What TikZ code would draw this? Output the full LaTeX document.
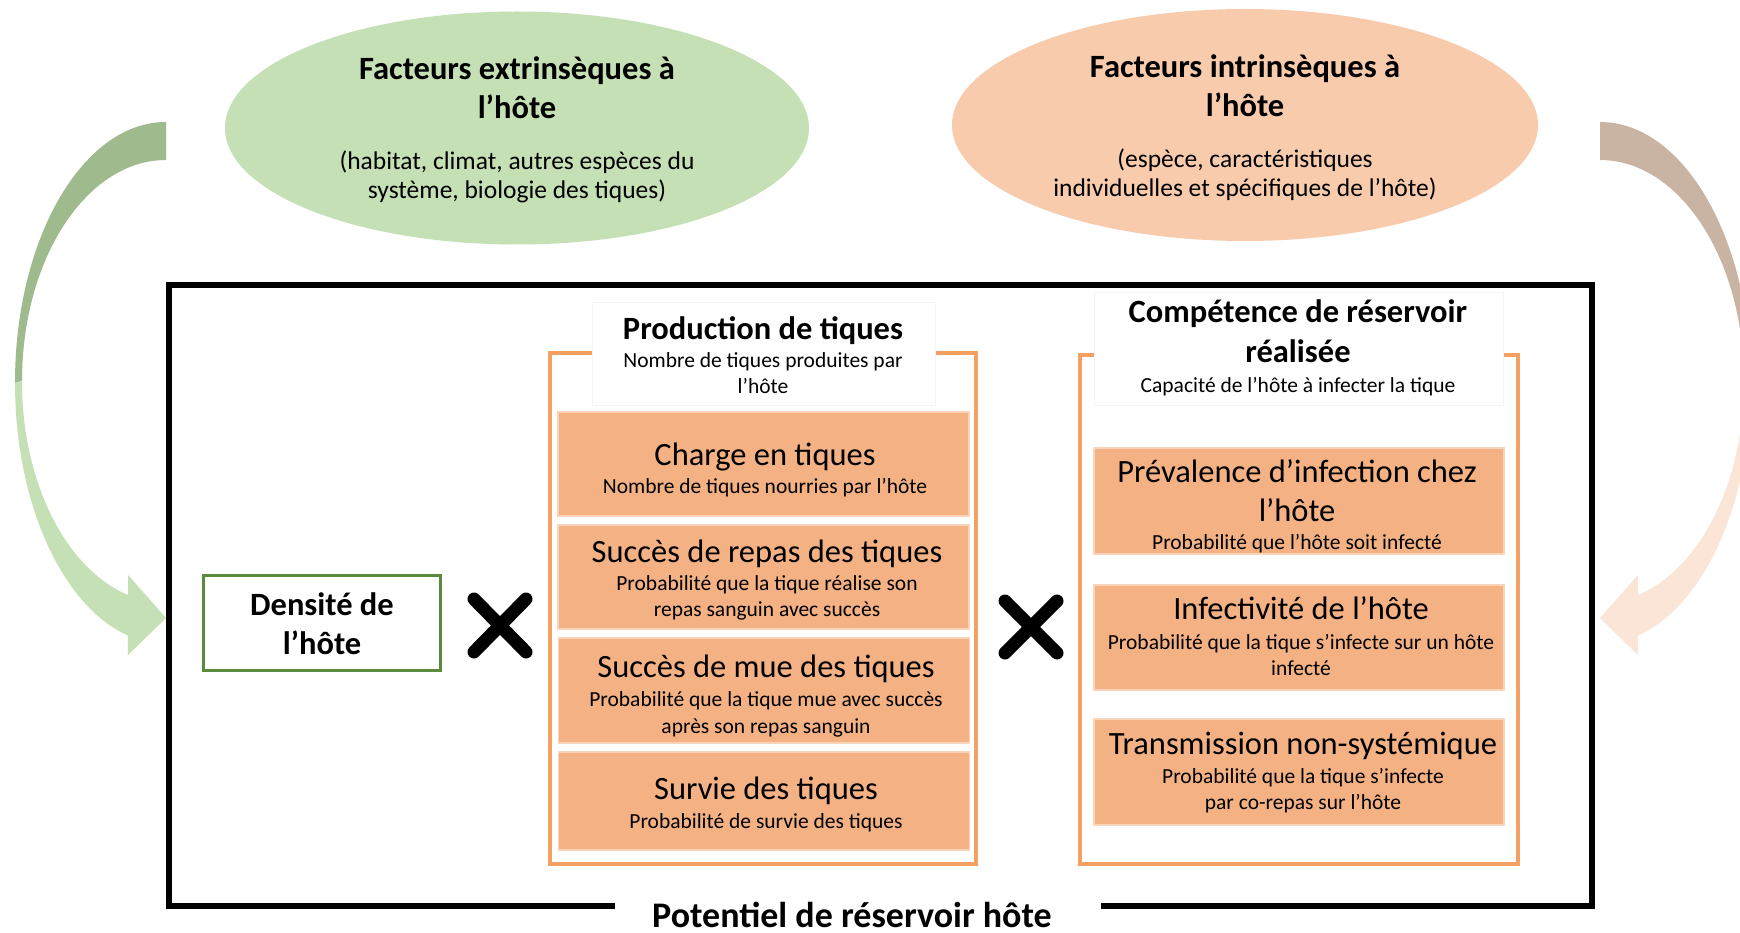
\documentclass[tikz,border=0pt]{standalone}
\usepackage{fontspec}
\setmainfont{Carlito}
\usetikzlibrary{shapes.geometric}
\definecolor{ellG}{HTML}{C5E0B4}
\definecolor{ellO}{HTML}{F8CBAD}
\definecolor{boxO}{HTML}{F4B183}
\definecolor{brO}{HTML}{F4A062}
\definecolor{grB}{HTML}{5A8A3C}
\definecolor{arrGd}{HTML}{9FBA8C}
\definecolor{arrGl}{HTML}{C5E0B4}
\definecolor{arrOd}{HTML}{C9B3A3}
\definecolor{arrOl}{HTML}{FBE5D6}
\begin{document}
\begin{tikzpicture}[x=1pt,y=-1pt,
  tb/.style={font=\bfseries\fontsize{32.5}{39}\selectfont, anchor=base, inner sep=0pt},
  tr/.style={font=\fontsize{32.5}{39}\selectfont, anchor=base, inner sep=0pt},
  ts/.style={font=\fontsize{21.5}{26}\selectfont, anchor=base, inner sep=0pt},
  te/.style={font=\fontsize{25.5}{31}\selectfont, anchor=base, inner sep=0pt},
  obox/.style={rectangle, fill=boxO, draw=boxO!55!white, line width=1.5pt, inner sep=0pt},
  wbox/.style={rectangle, fill=white, draw=black!4, line width=0.8pt, inner sep=0pt},
  bracket/.style={draw=brO, line width=3.5pt},
  ell/.style={ellipse, inner sep=0pt},
  xmark/.style={line width=13pt, line cap=round}
]
\path[use as bounding box] (0,0) rectangle (1740,933);
\fill[white] (0,0) rectangle (1740,933);

% ellipses
\node[ell, fill=ellG, minimum width=584pt, minimum height=233pt] (extr) at (517,128) {};
\node[ell, fill=ellO, minimum width=586pt, minimum height=232pt] (intr) at (1245,125) {};

% curved arrows
\begin{scope}
\clip (0,0) rectangle (1740,933);
\fill[arrGd] (166,122) arc[start angle=270, end angle=180, x radius=151, y radius=261]
  -- (22,381) arc[start angle=180, end angle=270, x radius=144, y radius=221] -- cycle;
\fill[arrGl] (15,383) arc[start angle=180, end angle=104.6, x radius=151, y radius=261]
  -- (128,655) -- (166,618) -- (128,575) -- (128,595)
  arc[start angle=105.3, end angle=180, x radius=144, y radius=221] -- cycle;
\fill[arrOd] (1600,122) arc[start angle=270, end angle=360, x radius=151, y radius=261]
  -- (1744,381) arc[start angle=360, end angle=270, x radius=144, y radius=221] -- cycle;
\fill[arrOl] (1751,383) arc[start angle=0, end angle=75.4, x radius=151, y radius=261]
  -- (1638,655) -- (1600,618) -- (1638,575) -- (1638,595)
  arc[start angle=74.7, end angle=0, x radius=144, y radius=221] -- cycle;
\end{scope}

% main frame
\draw[line width=6pt] (169,285) rectangle (1592,906);
\node[rectangle, fill=white, inner sep=0pt, minimum width=486pt, minimum height=46pt] (potbg) at (857.5,910) {};

% brackets
\draw[bracket] (550,353) rectangle (976,864);
\draw[bracket] (1080,355) rectangle (1518,864);
\node[wbox, minimum width=343pt, minimum height=103pt] (prodbg) at (763.5,353.5) {};
\node[wbox, minimum width=409pt, minimum height=113pt] (compbg) at (1298.5,348.5) {};

% orange boxes (left)
\node[obox, minimum width=411pt, minimum height=104pt] (charge) at (763.5,464) {};
\node[obox, minimum width=411pt, minimum height=104pt] (repas) at (763.5,577) {};
\node[obox, minimum width=411pt, minimum height=105pt] (mue) at (764,690.5) {};
\node[obox, minimum width=411pt, minimum height=98pt] (survie) at (764,801) {};
% orange boxes (right)
\node[obox, minimum width=410pt, minimum height=106pt] (preval) at (1299,501) {};
\node[obox, minimum width=410pt, minimum height=105pt] (infect) at (1299,637.5) {};
\node[obox, minimum width=410pt, minimum height=106pt] (transm) at (1299,772) {};

% density box
\node[rectangle, draw=grB, line width=3pt, fill=white, minimum width=237pt, minimum height=95pt] (dens) at (321.5,622.5) {};

% multiply signs
\draw[xmark] (474,599) -- (526,652);
\draw[xmark] (526,599) -- (474,652);
\draw[xmark] (1005,601) -- (1057,653);
\draw[xmark] (1057,601) -- (1005,653);

% texts: ellipses
\node[tb] (e1a) at (517,80) {Facteurs extrinsèques à};
\node[tb] (e1b) at (517,119) {l’hôte};
\node[te] (e1c) at (517,170) {(habitat, climat, autres espèces du};
\node[te] (e1d) at (517,199) {système, biologie des tiques)};
\node[tb] (e2a) at (1245,78) {Facteurs intrinsèques à};
\node[tb] (e2b) at (1245,117) {l’hôte};
\node[te] (e2c) at (1245,168) {(espèce, caractéristiques};
\node[te] (e2d) at (1245,197) {individuelles et spécifiques de l’hôte)};

% density
\node[tb] (d1) at (322,615) {Densité de};
\node[tb] (d2) at (322,654) {l’hôte};

% production
\node[tb] (p1) at (763,339) {Production de tiques};
\node[ts] (p2) at (763,367) {Nombre de tiques produites par};
\node[ts] (p3) at (763,393) {l’hôte};

\node[tr] (c1) at (765,465) {Charge en tiques};
\node[ts] (c2) at (765,493) {Nombre de tiques nourries par l’hôte};

\node[tr] (r1) at (767,562) {Succès de repas des tiques};
\node[ts] (r2) at (767,590) {Probabilité que la tique réalise son};
\node[ts] (r3) at (767,616) {repas sanguin avec succès};

\node[tr] (m1) at (766,677) {Succès de mue des tiques};
\node[ts] (m2) at (766,706) {Probabilité que la tique mue avec succès};
\node[ts] (m3) at (766,733) {après son repas sanguin};

\node[tr] (s1) at (766,799) {Survie des tiques};
\node[ts] (s2) at (766,828) {Probabilité de survie des tiques};

% competence
\node[tb] (k1) at (1298,323) {Compétence de réservoir};
\node[tb] (k2) at (1298,362) {réalisée};
\node[ts] (k3) at (1298,392) {Capacité de l’hôte à infecter la tique};

\node[tr] (v1) at (1297,482) {Prévalence d’infection chez};
\node[tr] (v2) at (1297,521) {l’hôte};
\node[ts] (v3) at (1297,549) {Probabilité que l’hôte soit infecté};

\node[tr] (i1) at (1301,619) {Infectivité de l’hôte};
\node[ts] (i2) at (1301,649) {Probabilité que la tique s’infecte sur un hôte};
\node[ts] (i3) at (1301,675) {infecté};

\node[tr] (t1) at (1303,754) {Transmission non-systémique};
\node[ts] (t2) at (1303,783) {Probabilité que la tique s’infecte};
\node[ts] (t3) at (1303,809) {par co-repas sur l’hôte};

% bottom title
\node[tb, font=\bfseries\fontsize{36}{43}\selectfont] (pot) at (852,927) {Potentiel de réservoir hôte};
\end{tikzpicture}
\end{document}
